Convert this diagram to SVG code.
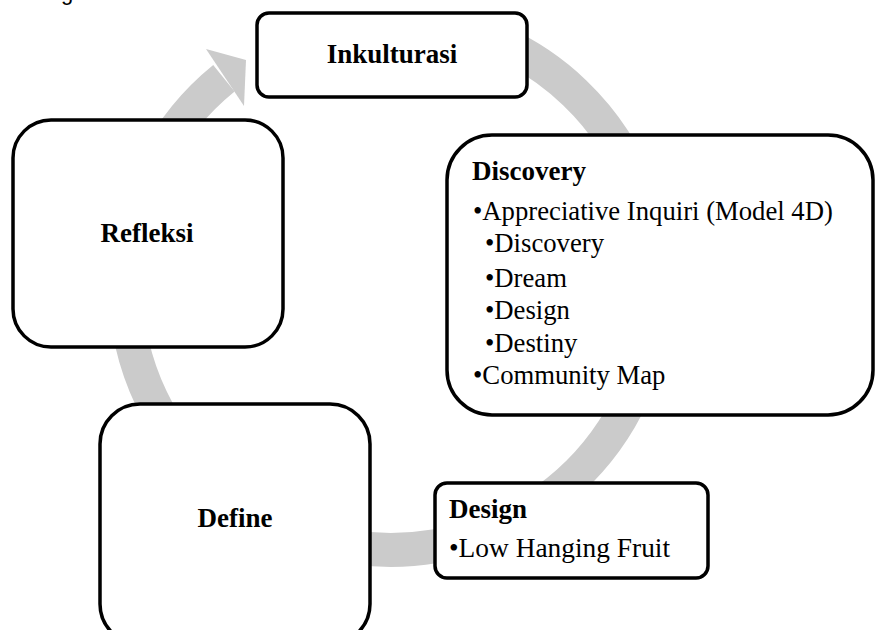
<svg xmlns="http://www.w3.org/2000/svg" width="877" height="630" viewBox="0 0 877 630">
<style>
.box{fill:#fff;stroke:#000;stroke-width:3.5}
.b{font-family:'Liberation Serif','Tinos','Times New Roman',Times,serif;font-weight:bold;font-size:27px;fill:#000}
.t{font-family:'Liberation Serif','Tinos','Times New Roman',Times,serif;font-size:26.7px;fill:#000}
.cyc{fill:none;stroke:#cbcbcb;stroke-width:34}
</style>
<rect width="877" height="630" fill="#fff"/>
<text x="61" y="0" font-family="'Liberation Sans', Arial, sans-serif" font-size="22" fill="#000">g</text>
<g id="connectors">
<path class="cyc" d="M481.8,35 A265.5,265.5 0 1 1 223.9,78.2"/>
<polygon points="206,49 246,60 244,106" fill="#cbcbcb"/>
</g>
<g id="inkulturasi">
<rect class="box" x="257" y="13" width="270" height="84" rx="12"/>
<text class="b" x="392" y="63" text-anchor="middle">Inkulturasi</text>
</g>
<g id="refleksi">
<rect class="box" x="13" y="120" width="270" height="227" rx="38"/>
<text class="b" x="147" y="242" text-anchor="middle">Refleksi</text>
</g>
<g id="discovery">
<rect class="box" x="447" y="135" width="426" height="280" rx="45"/>
<text class="b" x="472" y="180">Discovery</text>
<text class="t" x="473" y="220">•Appreciative Inquiri (Model 4D)</text>
<text class="t" x="485" y="252">•Discovery</text>
<text class="t" x="485" y="287">•Dream</text>
<text class="t" x="485" y="319">•Design</text>
<text class="t" x="485" y="352">•Destiny</text>
<text class="t" x="473" y="384">•Community Map</text>
</g>
<g id="define">
<rect class="box" x="100" y="404" width="270" height="240" rx="40"/>
<text class="b" x="235" y="527" text-anchor="middle">Define</text>
</g>
<g id="design">
<rect class="box" x="435" y="483" width="273" height="95" rx="12"/>
<text class="b" x="449" y="518">Design</text>
<text class="t" x="449" y="557" style="font-size:27.4px">•Low Hanging Fruit</text>
</g>
</svg>
